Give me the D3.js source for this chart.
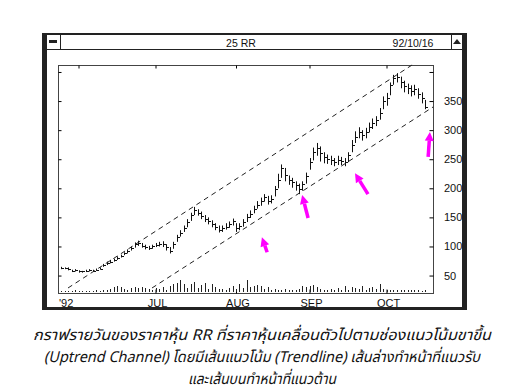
<!DOCTYPE html>
<html>
<head>
<meta charset="utf-8">
<script src="https://d3js.org/d3.v7.min.js"></script>
<style>
  body { margin: 0; background: #fff; }
  svg text { font-family: "Liberation Sans", Arial, sans-serif; fill: #111; }
  .cap { font-family: "Noto Sans Thai", "Loma", "Garuda", "Noto Sans", sans-serif; font-style: italic; font-size: 15px; }
</style>
</head>
<body>
<div id="chart"></div>
<script>

    // daily high / low / close, 25 May - 16 Oct 1992 (trading days)
    var highs = [65,64,64,60,61,59,58,60,61,60,62,64,
        70,74,77,79,83,86,90,95,100,107,110,
        106,103,101,103,106,108,109,104,99,
        108,120,128,136,147,158,168,
        164,160,154,150,145,140,136,136,140,143,148,
        140,140,147,156,162,170,178,184,190,187,188,
        204,225,241,235,222,218,212,208,212,227,
        252,270,278,272,262,258,256,252,256,254,252,
        262,283,298,305,300,304,313,320,324,338,358,364,
        382,395,398,392,385,380,377,378,372,365,352];
    var lows = [61,61,59,56,57,55,55,56,57,56,58,60,
        65,68,71,74,77,81,85,88,93,98,101,
        98,95,94,96,99,100,99,93,88,
        96,108,117,125,133,144,154,
        153,147,142,138,133,128,124,125,129,132,136,
        125,128,134,142,149,157,165,170,177,172,174,
        186,200,218,212,206,201,196,190,196,208,
        232,248,256,246,243,242,240,238,240,240,238,
        245,262,278,286,282,286,296,302,307,318,336,342,
        360,378,382,372,365,362,358,360,354,346,336];
    var closes = [63,63,62,58,59,57,57,58,59,58,60,62,
        68,72,74,77,81,84,88,92,97,104,106,
        101,99,98,100,103,104,105,99,93,
        105,117,124,131,142,154,163,
        158,153,148,144,139,134,129,131,134,138,143,
        131,135,142,150,156,165,172,178,185,179,182,
        198,215,235,223,214,210,205,198,207,221,
        245,262,269,260,254,251,248,245,249,247,245,
        258,275,288,297,291,297,306,312,317,329,350,355,
        377,389,391,382,376,372,368,370,363,356,340];
    var volumes = [1,1,1,1,2,1,1,1,1,1,2,1,
        2,2,3,5,6,5,3,2,
        4,5,4,5,4,3,2,4,
        3,5,2,6,8,9,
        12,8,4,8,10,4,7,9,3,8,5,3,
        3,2,4,6,3,8,4,12,5,6,
        7,6,3,5,2,3,2,2,3,2,
        2,2,3,6,5,6,7,5,3,2,
        2,3,2,4,2,6,2,5,4,3,
        6,2,4,5,3,8,3,2,2,2,
        2,2,2,2,2,2,2,1,2];

    // month starts (trading-day index) and labels
    var monthDays = [5, 27, 50, 71, 93];
    var monthLabels = ["JUL", "AUG", "SEP", "OCT"];
    var monthLabelDays = [27, 50, 71, 93];
    var yearLabel = "'92";
    var priceTicks = [50, 100, 150, 200, 250, 300, 350, 400];
    var priceLabels = [50, 100, 150, 200, 250, 300, 350];

    // channel lines [day, price]
    var upperLine = [[2, 28.6], [100.3, 412]];
    var lowerLine = [[26, 28.6], [106.3, 339.8]];

    // arrows [tail, tip] in [day, price]
    var arrows = [
        [[58.9, 90], [57.4, 116]],
        [[70.6, 149], [68.9, 188.5]],
        [[87.7, 190], [84, 226]],
        [[104.9, 254], [105.4, 297]]
    ];

    var captionLines = [
        "กราฟรายวันของราคาหุ้น RR ที่ราคาหุ้นเคลื่อนตัวไปตามช่องแนวโน้มขาขึ้น",
        "(Uptrend Channel) โดยมีเส้นแนวโน้ม (Trendline) เส้นล่างทำหน้าที่แนวรับ",
        "และเส้นบนทำหน้าที่แนวต้าน"
    ];
    var captionWidths = [458, 436, 148];

    var W = 521, H = 390;
    var plot = { left: 58, right: 433, top: 65, bottom: 293 };

    var svg = d3.select("#chart").append("svg")
        .attr("width", W).attr("height", H);

    // window frame
    svg.append("rect").attr("x", 43).attr("y", 34).attr("width", 423).attr("height", 275)
        .attr("fill", "#fff").attr("stroke", "#222").attr("stroke-width", 2);
    svg.append("rect").attr("x", 42).attr("y", 33).attr("width", 5).attr("height", 277).attr("fill", "#222");
    svg.append("rect").attr("x", 462).attr("y", 33).attr("width", 5).attr("height", 277).attr("fill", "#222");
    svg.append("rect").attr("x", 42).attr("y", 307).attr("width", 425).attr("height", 3).attr("fill", "#222");
    svg.append("line").attr("x1", 47).attr("x2", 462).attr("y1", 49.5).attr("y2", 49.5).attr("stroke", "#222");
    svg.append("line").attr("x1", 60.5).attr("x2", 60.5).attr("y1", 34).attr("y2", 50).attr("stroke", "#222");
    svg.append("line").attr("x1", 451.5).attr("x2", 451.5).attr("y1", 34).attr("y2", 50).attr("stroke", "#222");
    svg.append("rect").attr("x", 49).attr("y", 40).attr("width", 8).attr("height", 3).attr("fill", "#222");
    svg.append("path").attr("d", "M453,44 L457,39 L461,44 Z").attr("fill", "#222");
    svg.append("text").attr("x", 241).attr("y", 47).attr("text-anchor", "middle")
        .style("font-size", "10.5px").text("25 RR");
    svg.append("text").attr("x", 413).attr("y", 47).attr("text-anchor", "middle")
        .style("font-size", "10.5px").text("92/10/16");

    var x = d3.scaleLinear().domain([0, 104]).range([61, 425]);
    var y = d3.scaleLinear().domain([20, 412]).range([plot.bottom, plot.top]);
    var v = d3.scaleLinear().domain([0, 14]).range([292, 278]);

    // plot box
    svg.append("rect").attr("x", plot.left + 0.5).attr("y", plot.top + 0.5)
        .attr("width", plot.right - plot.left).attr("height", plot.bottom - plot.top)
        .attr("fill", "none").attr("stroke", "#444");

    // right axis with labels, ticks inward
    var rightAxis = svg.append("g").attr("transform", "translate(" + (plot.right + 0.5) + ",0)")
        .call(d3.axisLeft(y).tickValues(priceTicks).tickSize(4).tickFormat(""));
    rightAxis.select(".domain").remove();
    svg.selectAll(".plab").data(priceLabels).enter().append("text")
        .attr("x", 444).attr("y", function (d) { return y(d) + 4; })
        .style("font-size", "11px").text(function (d) { return d; });

    var leftAxis = svg.append("g").attr("transform", "translate(" + (plot.left + 0.5) + ",0)")
        .call(d3.axisRight(y).tickValues(priceTicks).tickSize(3).tickFormat(""));
    leftAxis.select(".domain").remove();

    // month ticks top and bottom
    var topAxis = svg.append("g").attr("transform", "translate(0," + (plot.top + 0.5) + ")")
        .call(d3.axisBottom(x).tickValues(monthDays).tickSize(3).tickFormat(""));
    topAxis.select(".domain").remove();
    var botAxis = svg.append("g").attr("transform", "translate(0," + (plot.bottom + 0.5) + ")")
        .call(d3.axisTop(x).tickValues(monthDays.slice(1)).tickSize(4).tickFormat(""));
    botAxis.select(".domain").remove();

    svg.selectAll(".mlab").data(monthLabels).enter().append("text")
        .attr("x", function (d, i) { return x(monthLabelDays[i]) + 2; })
        .attr("y", 307).attr("text-anchor", "middle")
        .style("font-size", "11px").text(function (d) { return d; });
    svg.append("text").attr("x", 59).attr("y", 307).style("font-size", "11px").text(yearLabel);

    // volume
    svg.selectAll(".vol").data(volumes).enter().append("line")
        .attr("x1", function (d, i) { return Math.round(x(i)) + 0.5; })
        .attr("x2", function (d, i) { return Math.round(x(i)) + 0.5; })
        .attr("y1", v(0)).attr("y2", function (d) { return v(d); })
        .attr("stroke", "#222");

    // price bars
    var bars = svg.selectAll(".bar").data(closes).enter().append("g");
    bars.append("line")
        .attr("x1", function (d, i) { return Math.round(x(i)) + 0.5; })
        .attr("x2", function (d, i) { return Math.round(x(i)) + 0.5; })
        .attr("y1", function (d, i) { return y(lows[i]); })
        .attr("y2", function (d, i) { return y(highs[i]); })
        .attr("stroke", "#111");
    bars.append("line")
        .attr("x1", function (d, i) { return Math.round(x(i)) + 1; })
        .attr("x2", function (d, i) { return Math.round(x(i)) + 3; })
        .attr("y1", function (d) { return Math.round(y(d)) + 0.5; })
        .attr("y2", function (d) { return Math.round(y(d)) + 0.5; })
        .attr("stroke", "#111");

    // channel lines
    svg.selectAll(".chan").data([upperLine, lowerLine]).enter().append("line")
        .attr("x1", function (d) { return x(d[0][0]); })
        .attr("y1", function (d) { return y(d[0][1]); })
        .attr("x2", function (d) { return x(d[1][0]); })
        .attr("y2", function (d) { return y(d[1][1]); })
        .attr("stroke", "#222").attr("stroke-dasharray", "5,4");

    // magenta arrows
    arrows.forEach(function (a) {
        var x0 = x(a[0][0]), y0 = y(a[0][1]), x1 = x(a[1][0]), y1 = y(a[1][1]);
        var ang = Math.atan2(y1 - y0, x1 - x0);
        var hl = 9, hw = 4.5;
        var bx = x1 - hl * Math.cos(ang), by = y1 - hl * Math.sin(ang);
        svg.append("line").attr("x1", x0).attr("y1", y0).attr("x2", bx).attr("y2", by)
            .attr("stroke", "#ff00ff").attr("stroke-width", 3.5);
        svg.append("path")
            .attr("d", "M" + x1 + "," + y1 +
                "L" + (bx + hw * Math.sin(ang)) + "," + (by - hw * Math.cos(ang)) +
                "L" + (bx - hw * Math.sin(ang)) + "," + (by + hw * Math.cos(ang)) + "Z")
            .attr("fill", "#ff00ff");
    });

    // caption
    svg.selectAll(".cap").data(captionLines).enter().append("text")
        .attr("class", "cap")
        .attr("x", 262).attr("y", function (d, i) { return 340 + i * 22; })
        .attr("text-anchor", "middle")
        .attr("textLength", function (d, i) { return captionWidths[i]; })
        .attr("lengthAdjust", "spacingAndGlyphs")
        .text(function (d) { return d; });

</script>
</body>
</html>
